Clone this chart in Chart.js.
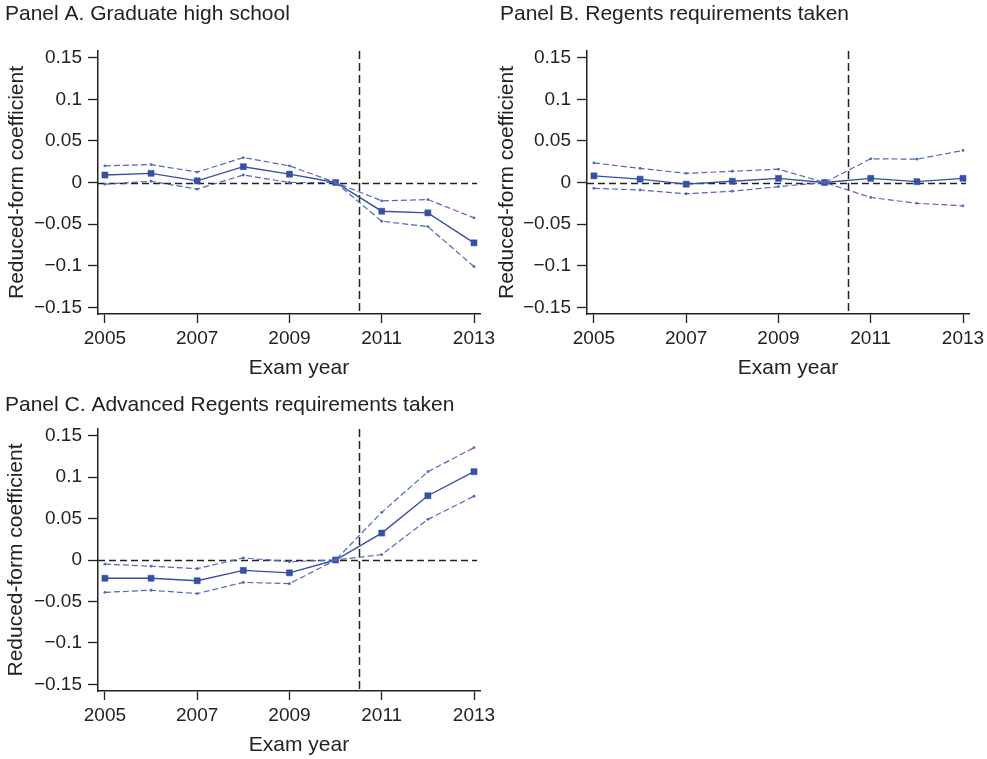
<!DOCTYPE html>
<html>
<head>
<meta charset="utf-8">
<script src="https://cdn.jsdelivr.net/npm/chart.js@4.4.1/dist/chart.umd.min.js"></script>
<style>
  html, body { margin: 0; padding: 0; background: #fff; overflow: hidden; }
  #wrap { position: relative; width: 987px; height: 759px; }
  canvas { position: absolute; }
</style>
</head>
<body>
<div id="wrap">
  <canvas id="panelA" width="500" height="380" style="left:0px;top:0px;width:500px;height:380px"></canvas>
  <canvas id="panelB" width="500" height="380" style="left:489px;top:0px;width:500px;height:380px"></canvas>
  <canvas id="panelC" width="500" height="380" style="left:0px;top:378px;width:500px;height:380px"></canvas>
</div>
<script>
// Event-study coefficients by exam year, with 95% confidence bounds
const years = [2005, 2006, 2007, 2008, 2009, 2010, 2011, 2012, 2013];

const gradEst = [0.009, 0.011, 0.002, 0.019, 0.010, 0, -0.0345, -0.0365, -0.0725];
const gradHi  = [0.020, 0.0215, 0.0125, 0.030, 0.020, 0, -0.022, -0.0205, -0.0425];
const gradLo  = [-0.002, 0.0015, -0.008, 0.009, 0.0, 0, -0.0465, -0.053, -0.101];

const regEst = [0.008, 0.004, -0.002, 0.0015, 0.005, 0, 0.005, 0.001, 0.005];
const regHi  = [0.0235, 0.017, 0.011, 0.0135, 0.016, 0, 0.0285, 0.028, 0.0385];
const regLo  = [-0.007, -0.009, -0.0135, -0.0105, -0.005, 0, -0.018, -0.025, -0.028];

const advEst = [-0.022, -0.022, -0.025, -0.0125, -0.0155, 0, 0.0325, 0.0775, 0.1065];
const advHi  = [-0.005, -0.0075, -0.0105, 0.0025, -0.002, 0, 0.0575, 0.1065, 0.1355];
const advLo  = [-0.039, -0.0365, -0.0405, -0.027, -0.0285, 0, 0.0065, 0.049, 0.077];

const xTickValues = [2005, 2007, 2009, 2011, 2013];
const yTickValues = [-0.15, -0.1, -0.05, 0, 0.05, 0.1, 0.15];
const yTickLabels = ['\u22120.15', '\u22120.1', '\u22120.05', '0', '0.05', '0.1', '0.15'];
const cutoffYear = 2010.5;

const xTitle = 'Exam year';
const yTitle = 'Reduced-form coefficient';

const FONT = '"Liberation Sans", Arial, Helvetica, sans-serif';
const INK = '#222';
const EST_COLOR = '#3650a3';
const CI_COLOR = '#5069b8';

function pts(vals) {
  return years.map((yr, i) => ({ x: yr, y: vals[i] }));
}

// Dashed reference lines: zero effect and the policy cutoff
const refLines = {
  id: 'refLines',
  beforeDatasetsDraw(chart) {
    const { ctx, chartArea: a, scales: { x, y } } = chart;
    ctx.save();
    ctx.strokeStyle = INK;
    ctx.lineWidth = 1.5;
    ctx.setLineDash([7, 4]);
    const y0 = Math.round(y.getPixelForValue(0)) + 0.5;
    ctx.beginPath();
    ctx.moveTo(a.left, y0);
    ctx.lineTo(a.right - 3, y0);
    ctx.stroke();
    ctx.setLineDash([8, 4]);
    const xc = Math.round(x.getPixelForValue(cutoffYear)) + 0.5;
    ctx.beginPath();
    ctx.moveTo(xc, a.top);
    ctx.lineTo(xc, a.bottom);
    ctx.stroke();
    ctx.restore();
  }
};

// Horizontal axis caption below the tick labels
const xCaption = {
  id: 'xCaption',
  afterDraw(chart) {
    const { ctx, chartArea: a } = chart;
    ctx.save();
    ctx.font = '21px ' + FONT;
    ctx.fillStyle = INK;
    ctx.textAlign = 'center';
    ctx.textBaseline = 'middle';
    ctx.fillText(xTitle, (a.left + a.right) / 2 + 10, a.bottom + 54.5);
    ctx.restore();
  }
};

function makePanel(id, title, est, lo, hi, lay) {
  const ciStyle = {
    borderColor: CI_COLOR,
    borderWidth: 1.2,
    borderDash: [6, 3],
    pointRadius: 1.4,
    pointBackgroundColor: CI_COLOR,
    pointBorderWidth: 0,
    tension: 0
  };
  new Chart(document.getElementById(id), {
    type: 'line',
    data: {
      datasets: [
        Object.assign({ data: pts(hi) }, ciStyle),
        Object.assign({ data: pts(lo) }, ciStyle),
        {
          data: pts(est),
          borderColor: EST_COLOR,
          borderWidth: 1.4,
          pointStyle: 'rect',
          pointRadius: 4.3,
          pointBackgroundColor: EST_COLOR,
          pointBorderColor: EST_COLOR,
          pointBorderWidth: 0.5,
          tension: 0
        }
      ]
    },
    options: {
      responsive: false,
      animation: false,
      devicePixelRatio: 1,
      events: [],
      layout: { padding: { left: lay.left, right: 20, top: 0, bottom: 0 } },
      plugins: {
        legend: { display: false },
        tooltip: { enabled: false },
        title: {
          display: true,
          text: title,
          align: 'start',
          color: INK,
          font: { family: FONT, size: 21, weight: 'normal', lineHeight: 1.2 },
          padding: { top: lay.titleTop, bottom: lay.titleBottom }
        }
      },
      scales: {
        x: {
          type: 'linear',
          min: 2004.85,
          max: 2013.13,
          afterBuildTicks: ax => { ax.ticks = xTickValues.map(v => ({ value: v })); },
          afterFit: ax => { ax.height = lay.xHeight; },
          ticks: {
            autoSkip: false,
            maxRotation: 0,
            padding: 4,
            color: INK,
            font: { family: FONT, size: 19, lineHeight: 1.2 },
            callback: v => String(v)
          },
          grid: {
            display: true,
            drawOnChartArea: false,
            drawTicks: true,
            tickLength: 9,
            tickColor: INK,
            tickWidth: 1.3
          },
          border: { display: true, color: INK, width: 1.5 },
          title: { display: false }
        },
        y: {
          type: 'linear',
          min: -0.158,
          max: 0.158,
          afterBuildTicks: ax => { ax.ticks = yTickValues.map(v => ({ value: v })); },
          afterFit: ax => { ax.width = lay.yWidth; },
          ticks: {
            autoSkip: false,
            padding: 6,
            color: INK,
            font: { family: FONT, size: 19, lineHeight: 1.2 },
            callback: v => yTickLabels[yTickValues.indexOf(v)]
          },
          grid: {
            display: true,
            drawOnChartArea: false,
            drawTicks: true,
            tickLength: 10,
            tickColor: INK,
            tickWidth: 1.3
          },
          border: { display: true, color: INK, width: 1.5 },
          title: {
            display: true,
            text: yTitle,
            color: INK,
            font: { family: FONT, size: 21, lineHeight: 0.5 },
            padding: { top: lay.yTitlePad, bottom: 0 }
          }
        }
      }
    },
    plugins: [refLines, xCaption]
  });
}

makePanel('panelA', 'Panel A. Graduate high school', gradEst, gradLo, gradHi,
  { left: 5, yWidth: 93, yTitlePad: 7, titleTop: 2, titleBottom: 23.8, xHeight: 66 });
makePanel('panelB', 'Panel B. Regents requirements taken', regEst, regLo, regHi,
  { left: 11, yWidth: 87, yTitlePad: 1.75, titleTop: 2, titleBottom: 23.8, xHeight: 66 });
makePanel('panelC', 'Panel C. Advanced Regents requirements taken', advEst, advLo, advHi,
  { left: 5, yWidth: 93, yTitlePad: 6, titleTop: 14.4, titleBottom: 11.4, xHeight: 67 });
</script>
</body>
</html>
